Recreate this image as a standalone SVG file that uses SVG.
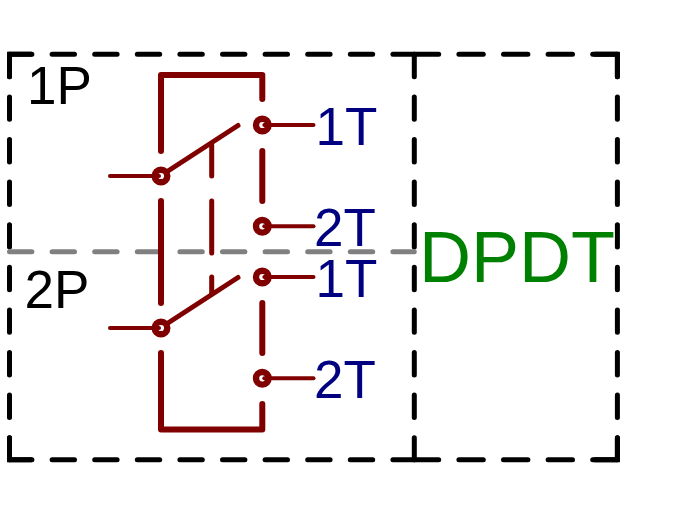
<svg xmlns="http://www.w3.org/2000/svg" width="683" height="530" viewBox="0 0 683 530">
<style>
.k{fill:none;stroke:#000;stroke-width:5;stroke-linecap:round;stroke-dasharray:22.4 20.2}
.c{fill:none;stroke:#000;stroke-width:5;stroke-linejoin:miter;stroke-linecap:round}
.g{fill:none;stroke:#808080;stroke-width:5;stroke-linecap:round;stroke-dasharray:22.4 20.2}
.m{fill:none;stroke:#800000;stroke-width:6;stroke-linecap:round;stroke-linejoin:round}
.a{fill:none;stroke:#800000;stroke-width:5;stroke-linecap:round}
.w{fill:none;stroke:#800000;stroke-width:4;stroke-linecap:round}
.p{fill:#fff;stroke:#800000;stroke-width:6.4}
text{font-family:"Liberation Sans",Arial,sans-serif;font-size:53px}
.t{fill:#000080}
</style>
<g id="frame">
<path class="k" d="M9.5 54.3H414.3"/>
<path class="k" d="M414.3 54.3H617.4" style="stroke-dasharray:24.4 20.2"/>
<path class="k" d="M9.5 459.7H414.3"/>
<path class="k" d="M414.3 459.7H617.4" style="stroke-dasharray:24.4 20.2"/>
<path class="k" d="M9.5 54.3V459.7"/>
<path class="k" d="M414.3 54.3V459.7"/>
<path class="k" d="M617.4 54.3V459.7"/>
<path class="c" d="M9.5 76.7V54.3H31"/>
<path class="c" d="M9.5 437.7V459.7H31"/>
<path class="c" d="M595 54.3H617.4V76.7"/>
<path class="c" d="M595 459.7H617.4V437.7"/>
<path class="g" d="M9.5 251.7H414.3"/>
</g>
<g id="connectors">
<path class="m" d="M161 151V75H262.3V99"/>
<path class="m" d="M262.3 151V201"/>
<path class="m" d="M161 201V303"/>
<path class="m" d="M262.3 303V353"/>
<path class="m" d="M161 353V429.5H262.3V404"/>
<path class="a" d="M211.7 145V176"/>
<path class="a" d="M211.7 201V253"/>
<path class="a" d="M211.7 277V294"/>
</g>
<g id="pole-1">
<circle class="p" cx="161" cy="176" r="6.3"/>
<path class="w" d="M110 176H159"/>
<path class="a" d="M168 171L238 125.5"/>
</g>
<g id="pole-2">
<circle class="p" cx="161" cy="328" r="6.3"/>
<path class="w" d="M110 328H159"/>
<path class="a" d="M168 323L238 277.5"/>
</g>
<g id="throw-1-1"><circle class="p" cx="262.3" cy="125" r="6.3"/><path class="w" d="M264.3 125H313.5"/><text class="t" x="315.5" y="145">1T</text></g>
<g id="throw-1-2"><circle class="p" cx="262.3" cy="226.3" r="6.3"/><path class="w" d="M264.3 226.3H313.5"/><text class="t" x="314" y="245.7">2T</text></g>
<g id="throw-2-1"><circle class="p" cx="262.3" cy="277" r="6.3"/><path class="w" d="M264.3 277H313.5"/><text class="t" x="315.5" y="296.7">1T</text></g>
<g id="throw-2-2"><circle class="p" cx="262.3" cy="378.3" r="6.3"/><path class="w" d="M264.3 378.3H313.5"/><text class="t" x="314" y="397.7">2T</text></g>
<g id="labels">
<text x="27" y="104">1P</text>
<text x="24.5" y="307.7">2P</text>
<text x="419" y="281.7" fill="#008000" style="font-size:72px">DPDT</text>
</g>
</svg>
